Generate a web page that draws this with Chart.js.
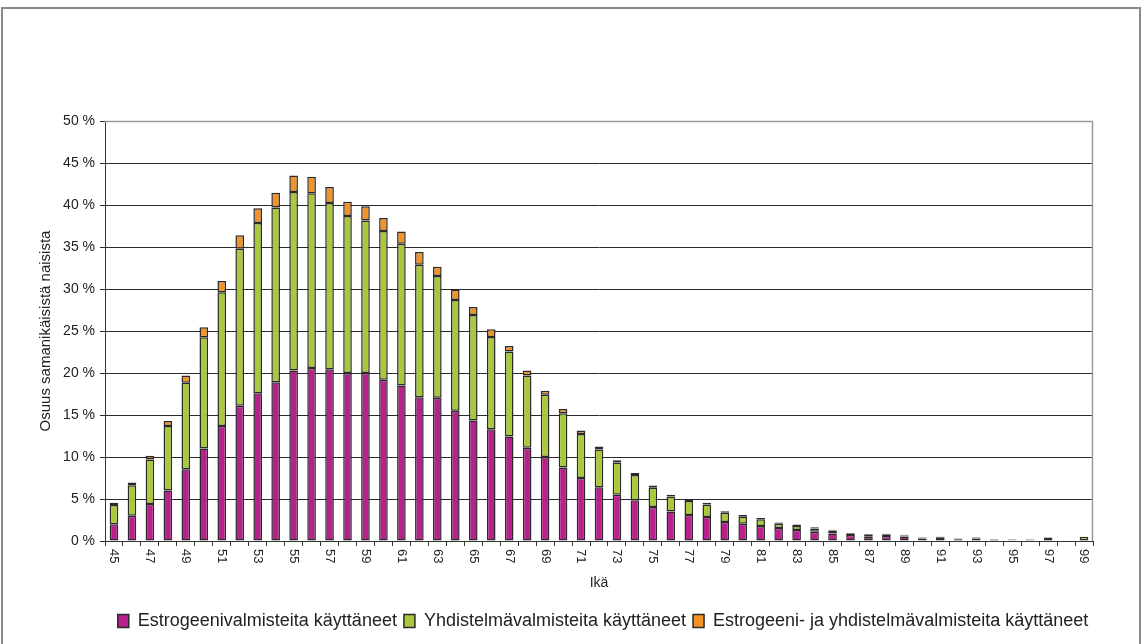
<!doctype html>
<html lang="fi">
  <head>
    <meta charset="utf-8">
    <title>Hormonivalmisteiden käyttö iän mukaan</title>
    <script src="https://cdn.jsdelivr.net/npm/chart.js"></script>
    <style>
        html, body { margin: 0; padding: 0; background: #ffffff; }
        .chart-box { position: relative; width: 1145px; height: 644px; }
    </style>
  </head>
  <body>
    <div class="chart-box">
        <canvas id="ageChart" width="1145" height="644"></canvas>
    </div>

    <script>
        // ages on the x axis
        const ages = [45, 46, 47, 48, 49, 50, 51, 52, 53, 54,
                      55, 56, 57, 58, 59, 60, 61, 62, 63, 64,
                      65, 66, 67, 68, 69, 70, 71, 72, 73, 74,
                      75, 76, 77, 78, 79, 80, 81, 82, 83, 84,
                      85, 86, 87, 88, 89, 90, 91, 92, 93, 94,
                      95, 96, 97, 98, 99];

        // share of women of the same age, %
        const estrogenOnly = [2.0, 3.0, 4.4, 6.0, 8.55, 11.0, 13.7, 16.1, 17.6, 18.9,
                              20.3, 20.6, 20.45, 20.0, 20.0, 19.2, 18.5, 17.1, 17.05, 15.5,
                              14.35, 13.3, 12.45, 11.1, 10.0, 8.75, 7.5, 6.4, 5.5, 4.85,
                              4.05, 3.5, 3.1, 2.85, 2.25, 2.05, 1.8, 1.55, 1.3, 1.1,
                              0.9, 0.7, 0.5, 0.6, 0.55, 0.3, 0.4, 0.15, 0.3, 0.15,
                              0.1, 0.1, 0.4, 0, 0];
        const combinedOnly = [2.3, 3.65, 5.3, 7.7, 10.3, 13.25, 15.9, 18.7, 20.25, 20.8,
                              21.25, 20.8, 19.8, 18.7, 18.15, 17.7, 16.9, 15.8, 14.5, 13.2,
                              12.55, 11.0, 10.1, 8.6, 7.4, 6.45, 5.25, 4.5, 3.85, 3.0,
                              2.3, 1.8, 1.65, 1.5, 1.1, 0.85, 0.8, 0.5, 0.5, 0.4,
                              0.35, 0.15, 0.2, 0.15, 0.1, 0.1, 0.1, 0.1, 0.1, 0.05,
                              0.05, 0.05, 0, 0, 0.5];
        const bothTypes = [0.25, 0.3, 0.45, 0.6, 0.85, 1.2, 1.35, 1.6, 1.75, 1.75,
                           1.95, 1.95, 1.9, 1.7, 1.7, 1.55, 1.45, 1.5, 1.1, 1.2,
                           0.95, 0.9, 0.65, 0.6, 0.5, 0.5, 0.4, 0.35, 0.25, 0.25,
                           0.25, 0.2, 0.25, 0.2, 0.2, 0.2, 0.15, 0.15, 0.15, 0.15,
                           0.1, 0.1, 0.1, 0.1, 0.1, 0.05, 0.05, 0.05, 0.05, 0.05,
                           0.05, 0.05, 0.05, 0, 0];

        const yTicks = [0, 5, 10, 15, 20, 25, 30, 35, 40, 45, 50];

        const FONT = "'Liberation Sans', Arial, sans-serif";

        // outer frame + grey box round the plot area
        const framePlugin = {
            id: 'frame',
            afterLayout(chart) {
                // legend sits under the plot area, not the whole canvas
                chart.legend.left += 38;
                chart.legend.right += 38;
            },
            beforeDraw(chart) {
                const c = chart.ctx;
                c.save();
                c.strokeStyle = '#8a8a8a';
                c.lineWidth = 2;
                c.strokeRect(2, 8, 1138, 700);
                c.restore();
            },
            beforeDatasetsDraw(chart) {
                const a = chart.chartArea, c = chart.ctx;
                c.save();
                c.strokeStyle = '#9a9a9a';
                c.lineWidth = 1.5;
                c.beginPath();
                c.moveTo(a.left, a.top + 0.5);
                c.lineTo(a.right - 0.5, a.top + 0.5);
                c.lineTo(a.right - 0.5, a.bottom);
                c.stroke();
                c.restore();
            }
        };

        // x tick labels turned clockwise, every second age
        const ageLabels = {
            id: 'ageLabels',
            afterDraw(chart) {
                const x = chart.scales.x, c = chart.ctx;
                c.save();
                c.font = '13px ' + FONT;
                c.fillStyle = '#222';
                c.textAlign = 'left';
                c.textBaseline = 'middle';
                ages.forEach((age, i) => {
                    if (i % 2 !== 0) return;
                    c.save();
                    c.translate(x.getPixelForValue(i), x.top + 8);
                    c.rotate(Math.PI / 2);
                    c.fillText(String(age), 0, 0);
                    c.restore();
                });
                c.restore();
            }
        };

        const border = '#2a2a2a';

        new Chart(document.getElementById('ageChart'), {
            type: 'bar',
            data: {
                labels: ages,
                datasets: [
                    { label: 'Estrogeenivalmisteita käyttäneet', data: estrogenOnly,
                      backgroundColor: '#b8218c', borderColor: border, borderWidth: 1.5, borderSkipped: false },
                    { label: 'Yhdistelmävalmisteita käyttäneet', data: combinedOnly,
                      backgroundColor: '#a9c93a', borderColor: border, borderWidth: 1.5, borderSkipped: false },
                    { label: 'Estrogeeni- ja yhdistelmävalmisteita käyttäneet', data: bothTypes,
                      backgroundColor: '#f39325', borderColor: border, borderWidth: 1.5, borderSkipped: false }
                ]
            },
            options: {
                responsive: false,
                animation: false,
                layout: { padding: { left: 37, top: 121, right: 52, bottom: 4 } },
                datasets: { bar: { barPercentage: 0.48, categoryPercentage: 1 } },
                plugins: {
                    tooltip: { enabled: false },
                    legend: {
                        position: 'bottom',
                        labels: {
                            font: { family: FONT, size: 18 },
                            color: '#222',
                            boxWidth: 11,
                            boxHeight: 13,
                            padding: 7
                        }
                    }
                },
                scales: {
                    x: {
                        stacked: true,
                        afterFit: s => { s.height = 64; },
                        ticks: { display: false },
                        grid: { drawOnChartArea: false, drawTicks: true, tickLength: 5, color: '#333' },
                        border: { color: '#333', width: 1 },
                        title: { display: true, text: 'Ikä', color: '#222', font: { family: FONT, size: 14 },
                                 padding: { top: 4, bottom: 13 } }
                    },
                    y: {
                        stacked: true,
                        min: 0,
                        max: 50,
                        afterFit: s => { s.width = 68; },
                        afterBuildTicks: s => { s.ticks = yTicks.map(v => ({ value: v })); },
                        ticks: {
                            callback: v => v + ' %',
                            color: '#222',
                            padding: 5,
                            font: { family: FONT, size: 14 }
                        },
                        grid: { color: '#2a2a2a', lineWidth: 1, tickLength: 5 },
                        border: { color: '#333', width: 1 },
                        title: { display: true, text: 'Osuus samanikäisistä naisista', color: '#222',
                                 font: { family: FONT, size: 15 }, padding: 0 }
                    }
                }
            },
            plugins: [framePlugin, ageLabels]
        });
    </script>
  </body>
</html>
